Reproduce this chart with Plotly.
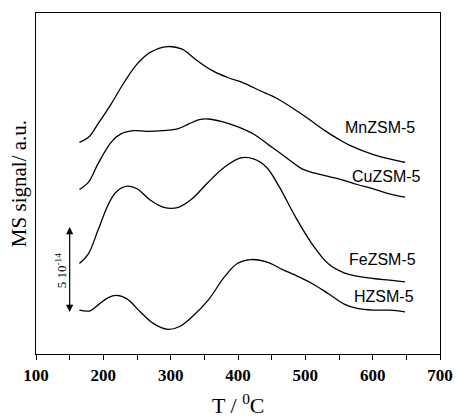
import plotly.graph_objects as go

# Temperatures (°C) and MS signal (a.u., stacked offsets as drawn)
T_Mn = [164.5, 178, 192, 211.5, 230.8, 250, 269, 295.7, 317, 336.5, 360.6, 384.6, 408.7, 432.8, 456.7, 480.8, 505, 529, 553, 567, 601, 625, 648]
S_Mn = [212.3, 217.3, 230.7, 250.7, 272.3, 290.7, 302.3, 308.3, 305.7, 295.7, 284.7, 277.3, 271.7, 264, 256.7, 246.7, 235.7, 224, 214, 209, 200, 195.7, 192.3]

T_Cu = [164.5, 178, 192, 211.5, 226, 245, 264, 288.5, 310, 327, 341, 355.7, 375, 399, 423, 447, 471, 495, 514.4, 529, 553, 577, 601, 625, 648]
S_Cu = [165, 172.3, 190.7, 212.3, 220.7, 224, 223.3, 224, 225.7, 230.7, 234.7, 235.7, 233.3, 228, 220.7, 209, 197.3, 185.7, 181.3, 179, 175, 170, 165.7, 160.7, 157.3]

T_Fe = [164.5, 178, 192, 206.7, 218.7, 235.6, 250, 269, 288.5, 310, 331.8, 355.7, 379.8, 404, 423, 442.3, 461.6, 485.5, 509.6, 533.7, 557.7, 577, 601, 625, 648]
S_Fe = [90.7, 100.7, 124, 149, 162.3, 168.3, 165.7, 154.7, 147.3, 146.7, 155.7, 172.3, 187.3, 196.7, 195.7, 187.3, 167.3, 137.3, 110.7, 90.7, 81.3, 78, 75.7, 74, 72.3]

T_H = [164.5, 180.3, 192, 206.7, 220, 235.6, 254.8, 274, 295.7, 312.5, 331.8, 355.7, 379.8, 399, 418.3, 442.3, 466.4, 490.5, 514.4, 533.7, 557.7, 577, 601, 625, 648]
S_H = [44, 43.3, 49, 56.3, 58.7, 55, 42.3, 30.7, 24.7, 27.3, 37.3, 54, 77.3, 90.7, 94.7, 92.3, 84.7, 77.3, 69, 60.7, 50, 45.7, 44, 44, 42.3]

series = [("MnZSM-5", T_Mn, S_Mn), ("CuZSM-5", T_Cu, S_Cu), ("FeZSM-5", T_Fe, S_Fe), ("HZSM-5", T_H, S_H)]

label_T = [610.6, 620, 615, 617]
label_S = [227.3, 178.3, 95, 57.3]

scale_T = 150
scale_top = 127.3
scale_bottom = 40.7
scale_text = "5 10<sup>-14</sup>"

x_ticks = [100, 200, 300, 400, 500, 600, 700]

fig = go.Figure()
for name, t, s in series:
    fig.add_trace(go.Scatter(x=t, y=s, mode="lines", name=name,
                             line=dict(color="black", width=1.3, shape="spline", smoothing=1.0),
                             showlegend=False))

for (name, _, _), lt, ls in zip(series, label_T, label_S):
    fig.add_annotation(x=lt, y=ls, text=name, showarrow=False,
                       font=dict(family="Liberation Sans", size=16, color="black"))

# scale bar (double-headed arrow)
fig.add_annotation(x=scale_T, y=scale_top, ax=scale_T, ay=scale_bottom,
                   xref="x", yref="y", axref="x", ayref="y", text="",
                   showarrow=True, arrowhead=2, arrowside="end+start",
                   arrowwidth=1.2, arrowsize=1.2, arrowcolor="black")
fig.add_annotation(x=137, y=(scale_top + scale_bottom) / 2, text=scale_text, textangle=-90,
                   showarrow=False, font=dict(family="Liberation Serif", size=13, color="black"))

# axis titles
fig.add_annotation(xref="paper", yref="paper", x=0.5, y=-0.146, yanchor="middle", xanchor="center",
                   text="T / <sup>0</sup>C", showarrow=False, borderpad=0,
                   font=dict(family="Liberation Serif", size=22, color="black"))
fig.add_annotation(xref="paper", yref="paper", x=-0.043, y=0.5, xanchor="center", yanchor="middle",
                   text="MS signal/ a.u.", textangle=-90, showarrow=False,
                   font=dict(family="Liberation Serif", size=21, color="black"))

fig.update_xaxes(range=[100, 700], tickvals=x_ticks, ticks="outside", ticklen=5,
                 tickcolor="black", tickwidth=1, showline=True, linecolor="black",
                 linewidth=1.2, mirror=True, showgrid=False, zeroline=False,
                 minor=dict(dtick=50, tick0=100, ticks="outside", ticklen=5, tickcolor="black"),
                 tickfont=dict(family="Liberation Serif", size=17, color="black", weight="bold"))
fig.update_yaxes(range=[0, 342], showticklabels=False, ticks="", showline=True,
                 linecolor="black", linewidth=1.2, mirror=True, showgrid=False, zeroline=False)

fig.update_layout(width=465, height=418, margin=dict(l=36, r=13, t=12, b=64),
                  plot_bgcolor="white", paper_bgcolor="white")

fig.write_html("out.html")
